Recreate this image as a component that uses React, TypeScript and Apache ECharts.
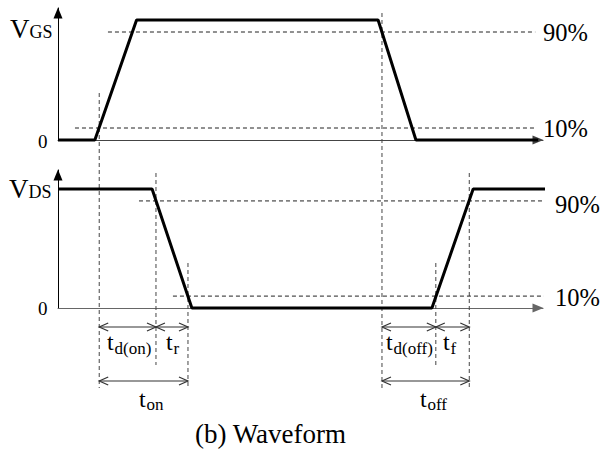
import React, { useEffect, useRef } from 'react';
import * as echarts from 'echarts';

// Time axis (arbitrary units, 0..100) and normalized voltage levels
const vgsTime = [0, 7.6, 16.2, 66.0, 73.8, 99];
const vgsLevel = [0, 0, 1, 1, 0, 0];
const vdsTime = [0, 19.4, 27.6, 77.1, 85.6, 101.9];
const vdsLevel = [1, 1, 0, 0, 1, 1];

const thresholdLevels = [0.9, 0.1];
const thresholdLabels = ['90%', '10%'];
// extents (time) of the dashed threshold lines
const topThresholdSpan = [[10.3, 98.4], [3.5, 98.4]];
const bottomThresholdSpan = [[16.7, 100.6], [23.7, 101.0]];

// switching instants (10% / 90% crossings)
const tOnStart = 8.5;
const tOnMid = 20.2;
const tOnEnd = 26.8;
const tOffStart = 66.8;
const tOffMid = 77.9;
const tOffEnd = 84.8;

// intervals: start, end, row
const intervalStart = [tOnStart, tOnMid, tOnStart, tOffStart, tOffMid, tOffStart];
const intervalEnd = [tOnMid, tOnEnd, tOnEnd, tOffMid, tOffEnd, tOffEnd];
const intervalRow = [0, 0, 1, 0, 0, 1];

const FONT = '"Liberation Serif", "Times New Roman", serif';

export default function App() {
  const ref = useRef<HTMLDivElement>(null);
  useEffect(() => {
    if (!ref.current) return;
    const chart = echarts.init(ref.current, undefined, { renderer: 'svg' });

    const rowY = [327, 381];
    const vertLines = [
      [tOnStart, 93, 388],
      [tOnMid, 173, 365],
      [tOnEnd, 263, 389],
      [tOffStart, 13, 389],
      [tOffMid, 263, 365],
      [tOffEnd, 173, 389],
    ];

    const graphic: any[] = [];
    const txt = (x: number, y: number, text: string, size: number) => {
      graphic.push({
        type: 'text',
        x,
        y,
        style: {
          text,
          fontSize: size,
          fontFamily: FONT,
          fill: '#000',
          align: 'left',
          verticalAlign: 'middle',
          textAlign: 'left',
          textVerticalAlign: 'middle',
        },
      });
    };
    const sub = (x: number, y: number, main: string, s: string, size: number, subSize: number, dx: number, dy: number) => {
      txt(x, y, main, size);
      txt(x + dx, y + dy, s, subSize);
    };
    sub(10, 29, 'V', 'GS', 27, 18, 19.5, 3);
    txt(38, 141, '0', 19);
    txt(543, 32, thresholdLabels[0], 24.5);
    txt(543, 128, thresholdLabels[1], 24.5);
    sub(9, 189, 'V', 'DS', 27, 18, 19.5, 3);
    txt(38, 308, '0', 19);
    txt(555, 204, thresholdLabels[0], 24.5);
    txt(555, 297, thresholdLabels[1], 24.5);
    sub(107, 342, 't', 'd(on)', 24, 17, 7.5, 6);
    sub(166, 342, 't', 'r', 24, 17, 7.5, 6);
    sub(139, 399, 't', 'on', 24, 17, 7.5, 5);
    sub(386, 342, 't', 'd(off)', 24, 17, 7.5, 6);
    sub(443, 342, 't', 'f', 24, 17, 7.5, 6);
    sub(420, 399, 't', 'off', 24, 17, 7.5, 5);
    txt(195, 434, '(b) Waveform', 27);

    const axisLineStyle = (color: string) => ({
      show: true,
      symbol: ['none', 'triangle'],
      symbolSize: [9, 11],
      symbolOffset: [0, -5],
      lineStyle: { color, width: 1 },
    });

    const hiddenBits = {
      axisTick: { show: false },
      axisLabel: { show: false },
      splitLine: { show: false },
    };

    const dashed = { color: '#222', width: 1, type: [4, 3] as any };

    const series: any[] = [
      {
        type: 'line',
        xAxisIndex: 0,
        yAxisIndex: 0,
        data: vgsTime.map((t, i) => [t, vgsLevel[i]]),
        symbol: 'none',
        clip: false,
        lineStyle: { color: '#000', width: 3 },
        z: 5,
      },
      {
        type: 'line',
        xAxisIndex: 1,
        yAxisIndex: 1,
        data: vdsTime.map((t, i) => [t, vdsLevel[i]]),
        symbol: 'none',
        clip: false,
        lineStyle: { color: '#000', width: 3 },
        z: 5,
      },
    ];
    thresholdLevels.forEach((lv, i) => {
      series.push({
        type: 'line',
        xAxisIndex: 0,
        yAxisIndex: 0,
        data: topThresholdSpan[i].map((t) => [t, lv]),
        symbol: 'none',
        clip: false,
        lineStyle: dashed,
      });
      series.push({
        type: 'line',
        xAxisIndex: 1,
        yAxisIndex: 1,
        data: bottomThresholdSpan[i].map((t) => [t, lv]),
        symbol: 'none',
        clip: false,
        lineStyle: dashed,
      });
    });
    series.push({
      type: 'custom',
      xAxisIndex: 2,
      yAxisIndex: 2,
      encode: { x: 0, y: [1, 2] },
      data: vertLines,
      renderItem: (_p: any, api: any) => {
        const a = api.coord([api.value(0), api.value(1)]);
        const b = api.coord([api.value(0), api.value(2)]);
        return {
          type: 'line',
          shape: { x1: a[0], y1: a[1], x2: b[0], y2: b[1] },
          style: { stroke: '#444', lineWidth: 1, lineDash: [4, 3], fill: 'none' },
        };
      },
    });
    series.push({
      type: 'custom',
      xAxisIndex: 2,
      yAxisIndex: 2,
      encode: { x: [0, 1], y: 2 },
      data: intervalStart.map((s, i) => [s, intervalEnd[i], rowY[intervalRow[i]]]),
      renderItem: (_p: any, api: any) => {
        const a = api.coord([api.value(0), api.value(2)]);
        const b = api.coord([api.value(1), api.value(2)]);
        const st = { stroke: '#333', lineWidth: 1.2, fill: 'none' };
        return {
          type: 'group',
          children: [
            { type: 'line', shape: { x1: a[0], y1: a[1], x2: b[0], y2: b[1] }, style: st },
            { type: 'polyline', shape: { points: [[a[0] + 9, a[1] - 4], [a[0], a[1]], [a[0] + 9, a[1] + 4]] }, style: st },
            { type: 'polyline', shape: { points: [[b[0] - 9, b[1] - 4], [b[0], b[1]], [b[0] - 9, b[1] + 4]] }, style: st },
          ],
        };
      },
    });

    chart.setOption({
      animation: false,
      backgroundColor: '#fff',
      grid: [
        { left: 58, top: 8, width: 485, height: 132 },
        { left: 58, top: 170, width: 485, height: 138 },
        { left: 58, top: 0, width: 485, height: 452 },
      ],
      xAxis: [
        { type: 'value', gridIndex: 0, min: 0, max: 100, axisLine: axisLineStyle('#444'), ...hiddenBits },
        { type: 'value', gridIndex: 1, min: 0, max: 100, axisLine: axisLineStyle('#666'), ...hiddenBits },
        { type: 'value', gridIndex: 2, min: 0, max: 100, show: false },
      ],
      yAxis: [
        { type: 'value', gridIndex: 0, min: 0, max: 1.1, axisLine: axisLineStyle('#000'), ...hiddenBits },
        { type: 'value', gridIndex: 1, min: 0, max: 1.16, axisLine: axisLineStyle('#000'), ...hiddenBits },
        { type: 'value', gridIndex: 2, min: 0, max: 452, inverse: true, show: false },
      ],
      series,
      graphic,
    });
    return () => chart.dispose();
  }, []);
  return (
    <div
      ref={ref}
      style={{ position: 'fixed', left: 0, top: 0, width: 614, height: 452, background: '#fff' }}
    />
  );
}
